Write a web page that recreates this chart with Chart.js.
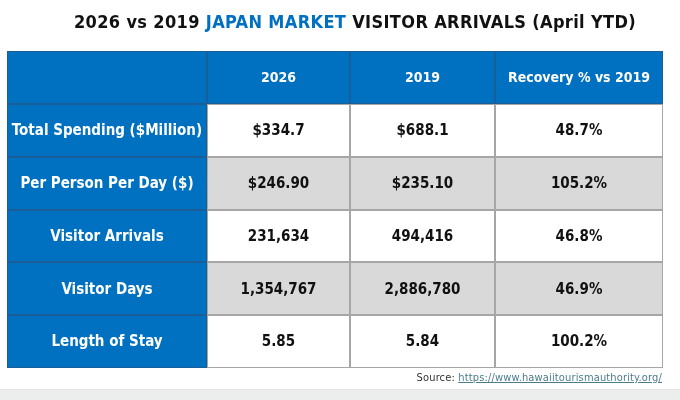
<!DOCTYPE html>
<html>
<head>
<meta charset="utf-8">
<script src="https://cdn.jsdelivr.net/npm/chart.js@4.4.1/dist/chart.umd.min.js"></script>
<style>
  html, body { margin: 0; padding: 0; background: #fff; }
  #wrap { position: relative; width: 680px; height: 400px; overflow: hidden; }
  #wrap canvas { position: absolute; left: 0; top: 0; }
  #title {
    position: absolute; left: 0; top: 11px; width: 710px; text-align: center;
    font: bold 18px "DejaVu Sans Condensed", "DejaVu Sans", sans-serif; color: #111;
    letter-spacing: 0.35px;
  }
  #title span { color: #0070C0; }
  #source {
    position: absolute; right: 18px; top: 371px;
    font: 11px "DejaVu Sans Condensed", "DejaVu Sans", sans-serif; color: #333;
    letter-spacing: 0.15px;
  }
  #source a { color: #4b7c8c; }
  #band { position: absolute; left: 0; top: 389px; width: 680px; height: 11px; background: #ebeeec; border-top: 1px solid #e2e4e2; }
</style>
</head>
<body>
<div id="wrap">
  <canvas id="table-chart" width="680" height="400"></canvas>
  <div id="title">2026 vs 2019 <span>JAPAN MARKET</span> VISITOR ARRIVALS (April YTD)</div>
  <div id="source">Source: <a href="https://www.hawaiitourismauthority.org/">https://www.hawaiitourismauthority.org/</a></div>
  <div id="band"></div>
</div>
<script>
// table contents
const columns = ['', '2026', '2019', 'Recovery % vs 2019'];
const rowLabels = ['Total Spending ($Million)', 'Per Person Per Day ($)', 'Visitor Arrivals', 'Visitor Days', 'Length of Stay'];
const values2026 = ['$334.7', '$246.90', '231,634', '1,354,767', '5.85'];
const values2019 = ['$688.1', '$235.10', '494,416', '2,886,780', '5.84'];
const recovery = ['48.7%', '105.2%', '46.8%', '46.9%', '100.2%'];

// column widths in px (layout only)
const colWidths = [200, 143, 145, 168];
const totalWidth = colWidths.reduce((a, b) => a + b, 0);
const colStart = colWidths.map((w, i) => colWidths.slice(0, i).reduce((a, b) => a + b, 0));

const BLUE = '#0070C0';
const GREY = '#D9D9D9';
const FONT = '"DejaVu Sans Condensed", "DejaVu Sans", sans-serif';

// row 0 is the header row
const yLabels = ['header', ...rowLabels];
const cellText = [
    columns,
    ...rowLabels.map((r, i) => [r, values2026[i], values2019[i], recovery[i]])
];

const cellColor = (row, col) => {
    if (row === 0 || col === 0) return BLUE;
    return row % 2 === 0 ? GREY : '#FFFFFF';
};

// one floating bar per cell, one dataset per column
const datasets = columns.map((c, col) => ({
    label: c || 'label',
    data: yLabels.map(() => [colStart[col], colStart[col] + colWidths[col]]),
    backgroundColor: yLabels.map((_, row) => cellColor(row, col)),
    borderWidth: 0,
    barPercentage: 1,
    categoryPercentage: 1,
    grouped: false
}));

const tablePlugin = {
    id: 'tableCells',
    afterDatasetsDraw(chart) {
        const ctx = chart.ctx;
        ctx.save();
        // borders: light cells first, blue cells on top
        [false, true].forEach(blueLayer => {
            chart.data.datasets.forEach((ds, col) => {
                chart.getDatasetMeta(col).data.forEach((bar, row) => {
                    const isBlue = cellColor(row, col) === BLUE;
                    if (isBlue !== blueLayer) return;
                    const left = Math.round(Math.min(bar.x, bar.base)) + 0.5;
                    const right = Math.round(Math.max(bar.x, bar.base)) - 0.5;
                    const top = Math.round(bar.y - bar.height / 2) + 0.5;
                    const bottom = Math.round(bar.y + bar.height / 2) - 0.5;
                    ctx.lineWidth = 1;
                    ctx.strokeStyle = isBlue ? '#1b5d96' : '#a6a6a6';
                    ctx.strokeRect(left, top, right - left, bottom - top);
                });
            });
        });
        // texts
        ctx.textAlign = 'center';
        ctx.textBaseline = 'middle';
        chart.data.datasets.forEach((ds, col) => {
            chart.getDatasetMeta(col).data.forEach((bar, row) => {
                const txt = cellText[row][col];
                if (!txt) return;
                const cx = (bar.x + bar.base) / 2;
                const blue = cellColor(row, col) === BLUE;
                ctx.fillStyle = blue ? '#FFFFFF' : '#111111';
                ctx.font = 'bold ' + (row === 0 ? 14 : 15) + 'px ' + FONT;
                ctx.fillText(txt, cx, bar.y + 1);
            });
        });
        ctx.restore();
    }
};

new Chart(document.getElementById('table-chart').getContext('2d'), {
    type: 'bar',
    data: { labels: yLabels, datasets: datasets },
    options: {
        indexAxis: 'y',
        responsive: false,
        animation: false,
        layout: { padding: { left: 7, right: 17, top: 51, bottom: 32 } },
        scales: {
            x: { type: 'linear', min: 0, max: totalWidth, display: false },
            y: { type: 'category', display: false, offset: true }
        },
        plugins: {
            legend: { display: false },
            tooltip: { enabled: false },
            title: { display: false }
        }
    },
    plugins: [tablePlugin]
});
</script>
</body>
</html>
